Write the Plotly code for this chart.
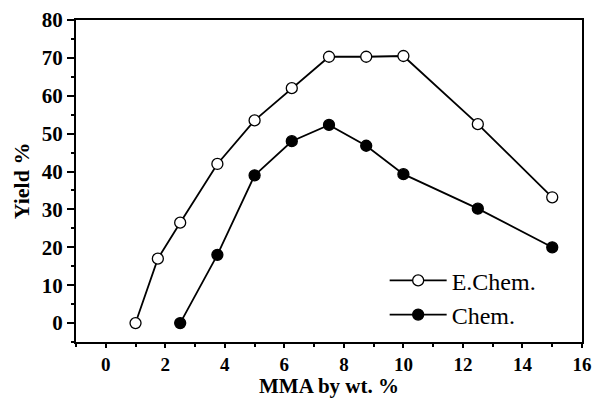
import plotly.graph_objects as go

echem_x = [1, 1.75, 2.5, 3.75, 5, 6.25, 7.5, 8.75, 10, 12.5, 15]
echem_y = [0, 17, 26.5, 42, 53.5, 62, 70.3, 70.3, 70.5, 52.5, 33.2]
chem_x = [2.5, 3.75, 5, 6.25, 7.5, 8.75, 10, 12.5, 15]
chem_y = [0, 18, 39, 48, 52.3, 46.8, 39.3, 30.2, 20]
x_ticks = [0, 2, 4, 6, 8, 10, 12, 14, 16]
y_ticks = [0, 10, 20, 30, 40, 50, 60, 70, 80]

FONT = "Times New Roman, Liberation Serif, serif"

fig = go.Figure()
fig.add_trace(go.Scatter(
    x=echem_x, y=echem_y, mode="lines+markers", name="E.Chem.",
    line=dict(color="black", width=1.8),
    marker=dict(symbol="circle", size=11, color="white",
                line=dict(color="black", width=1.3)),
))
fig.add_trace(go.Scatter(
    x=chem_x, y=chem_y, mode="lines+markers", name="Chem.",
    line=dict(color="black", width=1.8),
    marker=dict(symbol="circle", size=11, color="black",
                line=dict(color="black", width=1.3)),
))

axis_common = dict(
    showgrid=False, zeroline=False, showline=True, linecolor="black",
    linewidth=2, mirror=True, ticks="outside", tickcolor="black",
    tickwidth=2, automargin=False, ticklabeloverflow="allow",
)

fig.update_layout(
    width=592, height=399,
    margin=dict(l=76, r=10, t=20, b=57),
    paper_bgcolor="white", plot_bgcolor="white",
    font=dict(family=FONT, color="black"),
    xaxis=dict(range=[-1, 16], tickvals=x_ticks,
               ticktext=[f"<b>{v}</b>" for v in x_ticks],
               ticklen=4,
               tickfont=dict(family=FONT, size=19, color="black"),
               minor=dict(dtick=1, tick0=0, ticks="outside", ticklen=3,
                          tickwidth=1.5, tickcolor="black"),
               **axis_common),
    yaxis=dict(range=[-5, 80], tickvals=y_ticks,
               ticktext=[f"<b>{v}</b>" for v in y_ticks],
               ticklen=7,
               tickfont=dict(family=FONT, size=21, color="black"),
               minor=dict(dtick=5, tick0=0, ticks="outside", ticklen=3,
                          tickwidth=1.5, tickcolor="black"),
               **axis_common),
    legend=dict(x=0.61, y=0.26, xanchor="left", yanchor="top",
                bgcolor="rgba(0,0,0,0)", itemwidth=57,
                font=dict(family=FONT, size=24, color="black"),
                tracegroupgap=0),
    showlegend=True,
    annotations=[
        dict(text="<b>MMA by wt. %</b>", xref="paper", yref="paper",
             x=0.5, y=-0.178, xanchor="center", yanchor="bottom",
             borderpad=0, showarrow=False,
             font=dict(family=FONT, size=21, color="black")),
        dict(text="<b>Yield %</b>", xref="paper", yref="paper",
             x=-0.108, y=0.5, xanchor="center", yanchor="middle",
             textangle=-90, showarrow=False,
             font=dict(family=FONT, size=22, color="black")),
    ],
)

fig.write_html("out.html")
